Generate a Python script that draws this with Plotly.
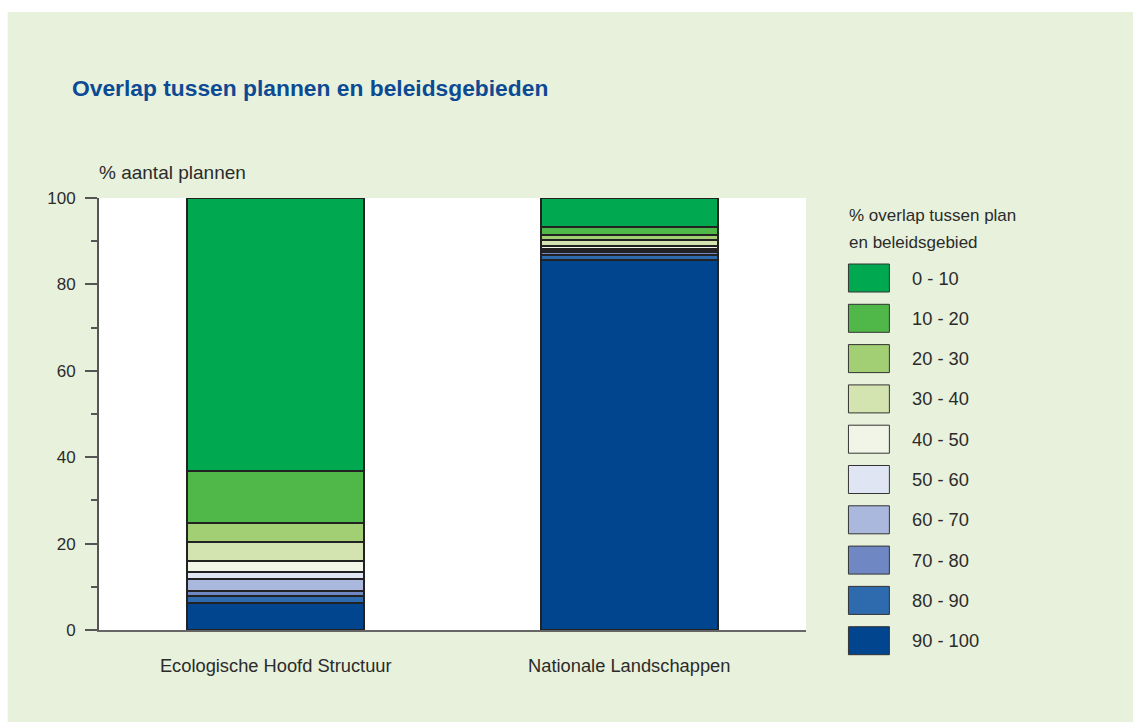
import plotly.graph_objects as go

# Plan categories (x axis)
categories = ["Ecologische Hoofd Structuur", "Nationale Landschappen"]

# Overlap classes, from lowest stack segment to highest
classes = ["90 - 100", "80 - 90", "70 - 80", "60 - 70", "50 - 60",
           "40 - 50", "30 - 40", "20 - 30", "10 - 20", "0 - 10"]

# % of plans per overlap class, for each category
ehs_values = [6.3, 1.6, 1.2, 2.8, 1.5, 2.5, 4.4, 4.5, 12.1, 63.1]
nl_values = [85.6, 1.2, 0.6, 0.5, 0.4, 0.6, 1.4, 1.2, 1.7, 6.8]

colors = ["#00458E", "#2E6AAE", "#6F88C4", "#ABB8DE", "#DFE5F3",
          "#F0F5E8", "#D3E4B0", "#A2CF74", "#50B848", "#00A84F"]

y_ticks = [0, 20, 40, 60, 80, 100]

W, H = 1133, 722
L, R, T, B = 98.5, 806.5, 198, 630  # plot area in pixels
BG = "#E8F1DC"
TEXT = "#2b2b2b"
FONT = "Liberation Sans, Arial, sans-serif"


def px(x):
    return (x - L) / (R - L)


def py(y):
    return (B - y) / (B - T)


fig = go.Figure()
for cls, col, a, b in zip(classes, colors, ehs_values, nl_values):
    fig.add_trace(go.Bar(
        x=categories, y=[a, b], name=cls, width=0.5,
        marker=dict(color=col, line=dict(color="#222222", width=2)),
        showlegend=False,
    ))

shapes = [
    # light green panel behind everything
    dict(type="rect", xref="paper", yref="paper", layer="below",
         x0=px(7), x1=px(W + 5), y0=py(H + 5), y1=py(12),
         fillcolor=BG, line=dict(width=0)),
    # white plotting area
    dict(type="rect", xref="paper", yref="paper", layer="below",
         x0=0, x1=1, y0=0, y1=1, fillcolor="white", line=dict(width=0)),
]

annotations = [
    dict(text="<b>Overlap tussen plannen en beleidsgebieden</b>",
         xref="paper", yref="paper", x=px(69), y=py(88),
         xanchor="left", yanchor="middle", showarrow=False,
         font=dict(family=FONT, size=22.8, color="#0D4A94")),
    dict(text="% aantal plannen", xref="paper", yref="paper",
         x=px(96), y=py(172), xanchor="left", yanchor="middle",
         showarrow=False, font=dict(family=FONT, size=19, color=TEXT)),
    dict(text="% overlap tussen plan", xref="paper", yref="paper",
         x=px(848), y=py(215), xanchor="left", yanchor="middle",
         showarrow=False, font=dict(family=FONT, size=17, color=TEXT)),
    dict(text="en beleidsgebied", xref="paper", yref="paper",
         x=px(848), y=py(242), xanchor="left", yanchor="middle",
         showarrow=False, font=dict(family=FONT, size=17, color=TEXT)),
]

# Legend swatches, top entry is the lowest overlap class
legend_order = list(zip(classes, colors))[::-1]
for i, (cls, col) in enumerate(legend_order):
    cy = 278 + 40.3 * i
    shapes.append(dict(type="rect", xref="paper", yref="paper",
                       x0=px(849), x1=px(890), y0=py(cy + 14), y1=py(cy - 14),
                       fillcolor=col, line=dict(color="#333333", width=1)))
    annotations.append(dict(text=cls, xref="paper", yref="paper",
                            x=px(911), y=py(cy), xanchor="left",
                            yanchor="middle", showarrow=False,
                            font=dict(family=FONT, size=18.3, color=TEXT)))

fig.update_layout(
    width=W, height=H, barmode="stack",
    margin=dict(l=L, r=W - R, t=T, b=H - B, pad=0),
    paper_bgcolor="white", plot_bgcolor="rgba(0,0,0,0)",
    font=dict(family=FONT, size=18, color=TEXT),
    shapes=shapes, annotations=annotations, showlegend=False,
    bargap=0.5,
)
fig.update_xaxes(range=[-0.5, 1.5], showline=True, linecolor="#666666",
                 linewidth=2, ticks="", showgrid=False, zeroline=False,
                 tickfont=dict(size=18.3, color=TEXT), ticklabelstandoff=18)
fig.update_yaxes(range=[0, 100], tickvals=y_ticks, showline=True,
                 linecolor="#555555", linewidth=2, ticks="outside",
                 ticklen=12, tickwidth=1.5, tickcolor="#555555",
                 minor=dict(dtick=10, ticks="outside", ticklen=6,
                            tickwidth=1.5, tickcolor="#555555"),
                 showgrid=False, zeroline=False,
                 tickfont=dict(size=17, color=TEXT), ticklabelstandoff=6)

fig.write_html("out.html")
